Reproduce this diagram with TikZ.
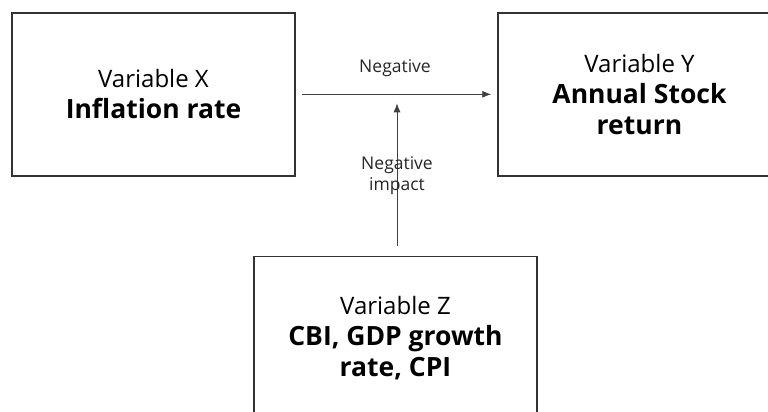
\documentclass[tikz,border=0pt]{standalone}
\usepackage{fontspec}
\setmainfont{Open Sans}
\usetikzlibrary{arrows.meta}
\newcommand{\bigb}[1]{{\fontsize{26.5}{31}\selectfont\bfseries #1}}
\begin{document}
\begin{tikzpicture}[x=1pt,y=-1pt,
  box/.style={draw=black!80, line width=1.5pt, minimum width=283pt, minimum height=163pt,
    inner sep=0pt, align=center, font=\fontsize{24}{31}\selectfont},
  conn/.style={draw=black!75, line width=0.9pt, -{Latex[length=9pt,width=7pt]}},
  lbl/.style={font=\fontsize{17.5}{21}\selectfont, align=center, inner sep=0pt, text=black!85}]
\useasboundingbox (0,0) rectangle (768,412);
\clip (0,0) rectangle (768,412);
\node[box] (X) at (153.5,94.3) {Variable X\\\bigb{Inflation rate}};
\node[box] (Y) at (639.5,94.3) {Variable Y\\\bigb{Annual Stock}\\\bigb{return}};
\node[box] (Z) at (395.5,338) {Variable Z\\\bigb{CBI, GDP growth}\\\bigb{rate, CPI}};
\draw[conn, shorten <=6pt, shorten >=6pt] (X) -- (Y);
\coordinate (m) at (397,94.3);
\draw[conn, shorten <=10pt, shorten >=9pt] (m |- Z.north) -- (m);
\node[lbl] (l1) at (395,68) {Negative};
\node[lbl] (l2) at (397,175.5) {Negative\\impact};
\end{tikzpicture}
\end{document}
